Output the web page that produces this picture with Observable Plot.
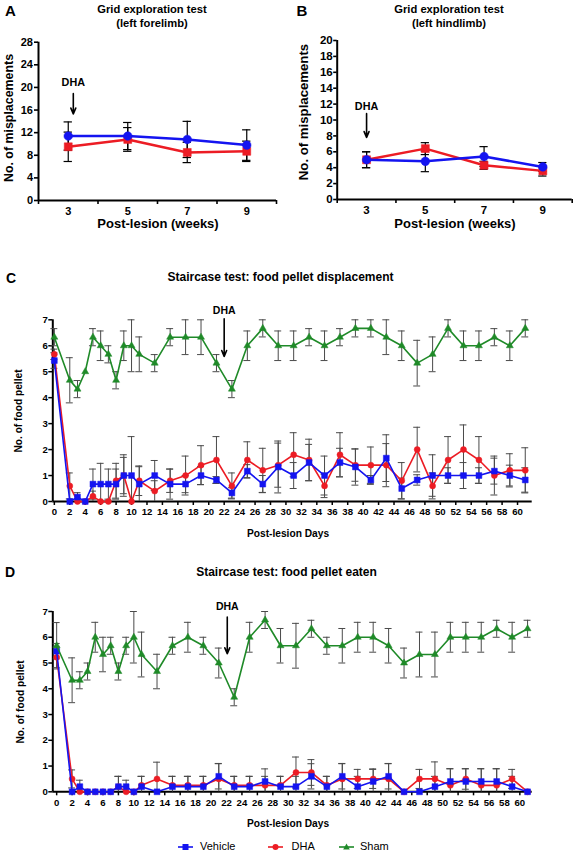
<!DOCTYPE html>
<html><head><meta charset="utf-8">
<script src="https://cdn.jsdelivr.net/npm/d3@7"></script>
<script src="https://cdn.jsdelivr.net/npm/@observablehq/plot@0.6"></script>
<style>
body{margin:0;background:#fff;}
#fig{position:relative;width:575px;height:853px;overflow:hidden;font-family:"Liberation Sans",Arial,Helvetica,sans-serif;color:#000;}
.abs{position:absolute;white-space:nowrap;}
</style></head><body><div id="fig"></div>
<script>
// ---------- data ----------
const weeks = [3, 5, 7, 9];
const weekTickMarks = [2, 4, 6, 8, 10];
const aYTicks = [0, 4, 8, 12, 16, 20, 24, 28];
const bYTicks = [0, 2, 4, 6, 8, 10, 12, 14, 16, 18, 20];

const aVehicleMean = [11.4, 11.4, 10.8, 9.8];
const aVehicleErr  = [2.5, 2.4, 3.2, 2.7];
const aDhaMean     = [9.5, 10.8, 8.5, 8.7];
const aDhaErr      = [2.6, 2.1, 1.8, 1.8];

const bVehicleMean = [5.0, 4.8, 5.4, 4.1];
const bVehicleErr  = [1.0, 1.3, 1.25, 0.55];
const bDhaMean     = [5.0, 6.4, 4.3, 3.6];
const bDhaErr      = [1.0, 0.75, 0.5, 0.65];

const days = [0,2,3,4,5,6,7,8,9,10,11,13,15,17,19,21,23,25,27,29,31,33,35,37,39,41,43,45,47,49,51,53,55,57,59,61];
const dayTicks = d3.range(0, 61, 2);
const pelletTicks = [0, 1, 2, 3, 4, 5, 6, 7];

const cShamMean = [6.33,4.67,4.33,5.0,6.33,6.0,5.67,4.67,6.0,6.0,5.67, 5.33,6.33,6.33,6.33,5.33,4.33,6.0,6.67,6.0, 6.0,6.33,6.0,6.33,6.67,6.67,6.33,6.0,5.33,5.67,6.67,6.0,6.0,6.33,6.0,6.67];
const cShamErr  = [0.33,0.87,0.33,0,0.33,0.57,0.33,0.33,0.57,1.0,0.67, 0.33,0.33,0.67,0.67,0.33,0.33,0.57,0.33,0.57, 0.57,0.33,0.57,0.33,0.33,0.33,0.67,0.57,0.88,0.67,0.33,0.57,0.57,0.33,0.57,0.33];
const cVehicleMean = [5.43,0,0.17,0,0.67,0.67,0.67,0.67,1.0,1.0,0.67, 1.0,0.67,0.67,1.0,0.83,0.33,1.17,0.67,1.33, 1.0,1.5,1.0,1.5,1.33,0.83,1.67,0.5,0.83,1.0,1.0,1.0,1.0,1.17,1.0,0.83];
const cVehicleErr  = [0.3,0,0.17,0,0.58,0.8,0.58,0.58,0.8,1.5,0.67, 0.58,0.58,0.33,0.35,0.13,0.2,0.25,0.33,1.0, 0.5,0.7,0.75,0.55,0.7,0.17,0.9,0.4,0.2,0.8,0.3,0.5,0.3,0.5,0.4,0.47];
const cDhaMean = [5.67,0.6,0,0,0.2,0,0,0.8,1.0,0,0.8, 0.4,0.8,1.0,1.4,1.6,0.6,1.6,1.2,1.4, 1.8,1.6,0.6,1.8,1.4,1.4,1.4,0.8,2.0,0.6,1.6,2.0,1.6,1.0,1.2,1.2];
const cDhaErr  = [0.2,0.5,0,0,0.2,0,0,0.67,0.7,0,0.57, 0.4,0.45,0.75,0.75,0.9,0.5,0.7,0.85,0.85, 0.85,0.8,0.45,0.85,0.62,0.7,0.83,0.7,0.86,0.5,0.9,0.95,0.9,0.75,0.64,0.87];

const dShamMean = [5.67,4.33,4.33,4.67,6.0,5.33,5.67,4.67,5.67,6.0,5.33, 4.67,5.67,6.0,5.67,5.0,3.67,6.0,6.67,5.67, 5.67,6.33,5.67,5.67,6.0,6.0,5.67,5.0,5.33,5.33,6.0,6.0,6.0,6.33,6.0,6.33];
const dShamErr  = [0.9,0.87,0.33,0.33,0.58,0.67,0.33,0.33,0.33,1.0,0.87, 0.67,0.33,0.58,0.33,0.58,0.33,0.58,0.33,0.67, 0.87,0.33,0.33,0.67,0.58,0.58,0.67,0.58,0.87,0.87,0.58,0.58,0.58,0.33,0.58,0.33];
const dVehicleMean = [5.46,0,0.2,0,0,0,0,0.2,0.2,0,0.2, 0,0.2,0.2,0.2,0.6,0.2,0.2,0.4,0.2, 0.2,0.6,0.2,0.6,0.2,0.4,0.6,0,0,0.2,0.4,0.4,0.4,0.4,0.2,0];
const dVehicleErr  = [0.3,0,0.25,0,0,0,0,0.4,0.25,0,0.4, 0,0.4,0.4,0.4,0.49,0.4,0.4,0.49,0.4, 0.4,0.49,0.4,0.49,0.4,0.49,0.49,0,0,0.4,0.49,0.49,0.49,0.49,0.4,0];
const dDhaMean = [5.22,0.5,0,0,0,0,0,0.2,0,0,0.25, 0.5,0.25,0.25,0.25,0.5,0.25,0.25,0.25,0.25, 0.75,0.75,0.25,0.5,0.5,0.5,0.5,0,0.5,0.5,0.25,0.5,0.25,0.25,0.5,0];
const dDhaErr  = [0.4,0.35,0,0,0,0,0,0.4,0,0,0.35, 0.65,0.35,0.35,0.35,0.6,0.35,0.35,0.35,0.35, 0.6,0.5,0.35,0.6,0.37,0.37,0.6,0,0.37,0.66,0.65,0.4,0.65,0.65,0.37,0];

// DHA onset annotations (data units)
const aArrow = {x: 3.17, yText: 20.2, y1: 18.9, y2: 15.3};
const bArrow = {x: 3.0, yText: 11.2, y1: 10.8, y2: 7.8};
const cArrow = {x: 22, yText: 7.24, y1: 7.04, y2: 5.59};
const dArrow = {x: 22.1, yText: 7.04, y1: 6.78, y2: 5.36};

// ---------- style ----------
const FONT = '"Liberation Sans", Arial, Helvetica, sans-serif';
const BLUE = "#1414f0", RED = "#ec1c24", GREEN = "#1f8a28";
const fig = document.getElementById("fig");
const intFmt = d3.format("d");

function place(svg, left, top) {
  svg.style.position = "absolute"; svg.style.left = left + "px"; svg.style.top = top + "px";
  fig.appendChild(svg);
}
function label(text, x, baseline, size, anchor = "middle", weight = "bold") {
  const d = document.createElement("div");
  d.className = "abs"; d.textContent = text;
  d.style.fontSize = size + "px"; d.style.lineHeight = size + "px"; d.style.fontWeight = weight;
  d.style.top = (baseline - 0.8465 * size) + "px"; d.style.left = x + "px";
  if (anchor === "middle") d.style.transform = "translateX(-50%)";
  fig.appendChild(d);
}
function vlabel(text, cx, cy, size) {
  const d = document.createElement("div");
  d.className = "abs"; d.textContent = text;
  d.style.fontSize = size + "px"; d.style.lineHeight = size + "px"; d.style.fontWeight = "bold";
  d.style.left = cx + "px"; d.style.top = cy + "px";
  d.style.transform = "translate(-50%,-50%) rotate(-90deg)";
  fig.appendChild(d);
}

function pts(xs, ms, es) {
  return xs.map((x, i) => ({x, y: ms[i], lo: Math.max(0, ms[i] - es[i]), hi: ms[i] + es[i]}));
}
function errMarks(p, cap, color, w) {
  const eb = p.filter(d => d.hi - d.lo > 0.001);
  return [
    Plot.ruleX(eb, {x: "x", y1: "lo", y2: "hi", stroke: color, strokeWidth: w}),
    Plot.ruleY(eb, {y: "hi", x1: d => d.x - cap, x2: d => d.x + cap, stroke: color, strokeWidth: w}),
    Plot.ruleY(eb.filter(d => d.lo > 0), {y: "lo", x1: d => d.x - cap, x2: d => d.x + cap, stroke: color, strokeWidth: w})
  ];
}
function lineMarks(p, color, lw, symbol, r) {
  return [
    Plot.line(p, {x: "x", y: "y", stroke: color, strokeWidth: lw}),
    Plot.dot(p, {x: "x", y: "y", symbol, r, fill: color, stroke: color, strokeWidth: 0.5})
  ];
}
function arrowMarks(a, fs) {
  return [
    Plot.arrow([a], {x1: "x", y1: "y1", x2: "x", y2: "y2", stroke: "#000", strokeWidth: 1.6, headLength: 6, headAngle: 45}),
    Plot.text([a], {x: "x", y: "yText", text: () => "DHA", lineAnchor: "bottom", fontSize: fs, fontWeight: "bold", fill: "#000"})
  ];
}
const styleOf = fs => ({fontFamily: FONT, fontSize: fs + "px", fontWeight: "bold", background: "none", color: "#000", overflow: "visible"});

// ---------- Panel A ----------
{
  const pv = pts(weeks, aVehicleMean, aVehicleErr), pd = pts(weeks, aDhaMean, aDhaErr);
  const cap = 0.14;
  place(Plot.plot({
    width: 285, height: 235, marginLeft: 38, marginRight: 9, marginTop: 41.7, marginBottom: 35,
    x: {domain: [2, 10]}, y: {domain: [0, 28]}, style: styleOf(11),
    marks: [
      Plot.axisY({ticks: aYTicks, tickSize: 4, tickPadding: 1.5, tickFormat: intFmt, label: null, strokeWidth: 1.6}),
      Plot.axisX({ticks: weekTickMarks, tickSize: 4, tickFormat: () => "", label: null, strokeWidth: 1.6}),
      Plot.axisX({ticks: weeks, tickSize: 0, tickPadding: 6.7, tickFormat: intFmt, label: null}),
      Plot.ruleX([2], {y1: 0, y2: 28, strokeWidth: 2}),
      Plot.ruleY([0], {x1: 2, x2: 10, strokeWidth: 2}),
      ...errMarks(pd, cap, "#000", 1.2), ...errMarks(pv, cap, "#000", 1.2),
      ...lineMarks(pd, RED, 2.5, "square", 4.5),
      ...lineMarks(pv, BLUE, 2.5, "circle", 4.3),
      ...arrowMarks(aArrow, 10.8)
    ]
  }), 0, 0);
}
// ---------- Panel B ----------
{
  const pv = pts(weeks, bVehicleMean, bVehicleErr), pd = pts(weeks, bDhaMean, bDhaErr);
  const cap = 0.14;
  place(Plot.plot({
    width: 290, height: 235, marginLeft: 51.7, marginRight: 3.3, marginTop: 40, marginBottom: 36,
    x: {domain: [2, 10]}, y: {domain: [0, 20]}, style: styleOf(11.5),
    marks: [
      Plot.axisY({ticks: bYTicks, tickSize: 3.5, tickPadding: 1, tickFormat: intFmt, label: null, strokeWidth: 1.6}),
      Plot.axisX({ticks: weekTickMarks, tickSize: 4, tickFormat: () => "", label: null, strokeWidth: 1.6}),
      Plot.axisX({ticks: weeks, tickSize: 0, tickPadding: 6.7, tickFormat: intFmt, label: null}),
      Plot.ruleX([2], {y1: 0, y2: 20, strokeWidth: 2}),
      Plot.ruleY([0], {x1: 2, x2: 10, strokeWidth: 2}),
      ...errMarks(pd, cap, "#000", 1.2), ...errMarks(pv, cap, "#000", 1.2),
      ...lineMarks(pd, RED, 2.5, "square", 4.5),
      ...lineMarks(pv, BLUE, 2.5, "circle", 4.3),
      ...arrowMarks(bArrow, 10.8)
    ]
  }), 285, 0);
}
// ---------- Panels C & D ----------
function staircase(sham, shamE, veh, vehE, dha, dhaE, arrow, xDomain, height, mTop, mBottom) {
  const ps = pts(days, sham, shamE), pv = pts(days, veh, vehE), pd = pts(days, dha, dhaE);
  const cap = 0.45, ec = "#4a4a4a";
  return Plot.plot({
    width: 575, height, marginLeft: 52.3, marginRight: 43.3, marginTop: mTop, marginBottom: mBottom,
    x: {domain: xDomain}, y: {domain: [0, 7]}, style: styleOf(9.6),
    marks: [
      Plot.axisY({ticks: pelletTicks, tickSize: 4, tickPadding: 1, tickFormat: intFmt, label: null, strokeWidth: 1.5}),
      Plot.axisX({ticks: dayTicks, tickSize: 4, tickPadding: 3, tickFormat: intFmt, label: null, strokeWidth: 1.5}),
      Plot.ruleX([xDomain[0]], {y1: 0, y2: 7, strokeWidth: 2}),
      Plot.ruleY([0], {x1: xDomain[0], x2: xDomain[1], strokeWidth: 2}),
      ...errMarks(ps, cap, ec, 1), ...errMarks(pd, cap, ec, 1), ...errMarks(pv, cap, ec, 1),
      ...lineMarks(pd, RED, 1.6, "circle", 3),
      ...lineMarks(pv, BLUE, 1.6, "square", 3.3),
      ...lineMarks(ps, GREEN, 1.6, "triangle", 2.6),
      ...arrowMarks(arrow, 10.5)
    ]
  });
}
place(staircase(cShamMean, cShamErr, cVehicleMean, cVehicleErr, cDhaMean, cDhaErr, cArrow, [-0.2, 61.9], 250, 39.3, 29), 0, 280);
place(staircase(dShamMean, dShamErr, dVehicleMean, dVehicleErr, dDhaMean, dDhaErr, dArrow, [-0.5, 61.6], 235, 26, 28.7), 0, 585);

// ---------- text ----------
label("A", 5, 16, 15, "start");
label("B", 296.5, 16, 15, "start");
label("Grid exploration test", 152, 13, 11.2);
label("(left forelimb)", 152, 27, 11.2);
label("Grid exploration test", 449, 13, 11.2);
label("(left hindlimb)", 449, 27, 11.2);
vlabel("No. of misplacements", 8.5, 117.5, 12.4);
vlabel("No. of misplacements", 304, 111.7, 13.2);
label("Post-lesion (weeks)", 158, 227.7, 13);
label("Post-lesion (weeks)", 455, 227.7, 13);

label("C", 6, 283, 14, "start");
label("Staircase test: food pellet displacement", 280.5, 281.5, 12);
vlabel("No. of food pellet", 19, 411, 10.2);
label("Post-lesion Days", 288, 537.5, 10.2);

label("D", 5, 576.5, 14, "start");
label("Staircase test: food pellet eaten", 286.5, 576.3, 12);
vlabel("No. of food pellet", 20.5, 702, 10.2);
label("Post-lesion Days", 288, 828, 10.2);

// ---------- legend ----------
const legendItems = [
  {name: "Vehicle", color: BLUE, shape: "square", x0: 178, x1: 193, tx: 200},
  {name: "DHA", color: RED, shape: "circle", x0: 268, x1: 283, tx: 291.5},
  {name: "Sham", color: GREEN, shape: "triangle", x0: 339, x1: 354, tx: 360}
];
const ly = 846.7;
legendItems.forEach(it => {
  const ns = "http://www.w3.org/2000/svg";
  const s = document.createElementNS(ns, "svg");
  s.setAttribute("width", it.x1 - it.x0 + 2); s.setAttribute("height", 10);
  s.style.position = "absolute"; s.style.left = (it.x0 - 1) + "px"; s.style.top = (ly - 5) + "px";
  const cx = (it.x1 - it.x0) / 2 + 1;
  const ln = document.createElementNS(ns, "line");
  ln.setAttribute("x1", 1); ln.setAttribute("x2", it.x1 - it.x0 + 1); ln.setAttribute("y1", 5); ln.setAttribute("y2", 5);
  ln.setAttribute("stroke", it.color); ln.setAttribute("stroke-width", 1.6);
  s.appendChild(ln);
  let m;
  if (it.shape === "square") { m = document.createElementNS(ns, "rect"); m.setAttribute("x", cx - 3); m.setAttribute("y", 2); m.setAttribute("width", 6); m.setAttribute("height", 6); }
  else if (it.shape === "circle") { m = document.createElementNS(ns, "circle"); m.setAttribute("cx", cx); m.setAttribute("cy", 5); m.setAttribute("r", 3); }
  else { m = document.createElementNS(ns, "polygon"); m.setAttribute("points", `${cx},1.5 ${cx + 3.3},7.5 ${cx - 3.3},7.5`); }
  m.setAttribute("fill", it.color);
  s.appendChild(m);
  fig.appendChild(s);
  label(it.name, it.tx, 850.5, 11, "start", "normal");
});
</script></body></html>
